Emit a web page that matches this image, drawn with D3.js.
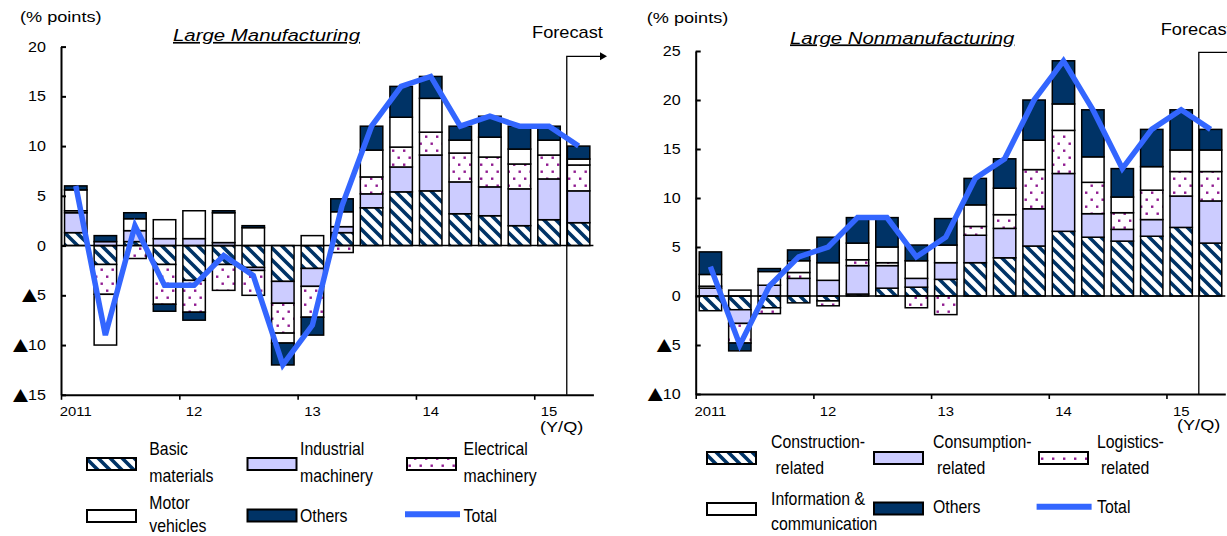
<!DOCTYPE html>
<html>
<head>
<meta charset="utf-8">
<script src="https://cdn.jsdelivr.net/npm/d3@7"></script>
<style>
  body { margin: 0; background: #fff; }
  svg { display: block; font-family: "Liberation Sans", Arial, sans-serif; }
  .tri { font-family: "DejaVu Sans", sans-serif; }
</style>
</head>
<body>
<svg id="chart" width="1227" height="536"></svg>
<script>
// ---- Quarters and axis labels ----
const quarters = ["2011Q1","2011Q2","2011Q3","2011Q4","2012Q1","2012Q2","2012Q3","2012Q4",
                  "2013Q1","2013Q2","2013Q3","2013Q4","2014Q1","2014Q2","2014Q3","2014Q4",
                  "2015Q1","2015Q2"];
const yearLabelQuarters = ["2011Q1","2012Q1","2013Q1","2014Q1","2015Q1"];
const yearLabels = ["2011","12","13","14","15"];
const mfgTicks = [-15,-10,-5,0,5,10,15,20];
const nonmfgTicks = [-10,-5,0,5,10,15,20,25];

// ---- Large manufacturing: contributions (% points) ----
const mfgKeys = ["Basic materials","Industrial machinery","Electrical machinery","Motor vehicles","Others"];
const basicMaterials      = [1.3,-1.9, 0.4,-1.9,-3.5,-1.9,-2.2,-3.6,-2.3, 1.3, 3.8, 5.4, 5.5, 3.2, 3.0, 2.0, 2.6, 2.3];
const industrialMachinery = [2.0, 0.4, 1.1, 0.7, 0.7, 0.3,-0.3,-2.2,-1.8, 0.6, 1.4, 2.5, 3.6, 3.2, 2.9, 3.7, 4.1, 3.2];
const electricalMachinery = [0.2,-3.0,-1.3,-4.0,-3.2,-2.6,-2.5,-3.0,-3.1,-0.7, 1.7, 2.0, 2.3, 2.9, 3.0, 2.5, 2.4, 2.6];
const motorVehicles       = [2.1,-5.1, 1.2, 1.9, 2.8, 3.0, 1.8,-1.0, 1.0, 1.5, 2.7, 3.0, 3.4, 1.3, 2.0, 1.5, 1.5, 0.6];
const othersMfg           = [0.4, 0.6, 0.6,-0.7,-0.8, 0.2, 0.2,-2.2,-1.8, 1.3, 2.4, 3.1, 2.2, 1.4, 2.1, 2.3, 1.4, 1.3];
const totalMfg            = [6,-9, 2,-4,-4,-1,-3,-12,-8, 4,12,16,17,12,13,12,12,10];

// ---- Large nonmanufacturing: contributions (% points) ----
const nonmfgKeys = ["Construction-related","Consumption-related","Logistics-related","Information & communication","Others"];
const construction  = [-1.5,-1.4,-1.2,-0.7,-0.5, 0.2, 0.8, 0.9, 1.7, 3.4, 3.9, 5.1, 6.6, 6.0, 5.6, 6.1, 7.0, 5.4];
const consumption   = [ 0.8,-1.4, 1.1, 1.8, 1.6, 2.9, 2.3, 0.9, 1.7, 2.8, 3.0, 3.8, 5.9, 2.4, 1.2, 1.7, 3.2, 4.3];
const logistics     = [ 0.2,-2.0,-0.6, 0.6,-0.5, 0.6, 0.3,-1.2,-1.9, 0.9, 1.4, 4.0, 4.4, 3.2, 1.7, 3.0, 2.5, 3.0];
const infoComm      = [ 1.2, 0.6, 1.4, 1.2, 1.8, 1.7, 1.6, 1.8, 1.8, 2.2, 2.7, 3.0, 2.7, 2.6, 1.6, 2.4, 2.2, 2.2];
const othersNonmfg  = [ 2.3,-0.8, 0.3, 1.1, 2.6, 2.6, 3.0, 1.6, 2.7, 2.7, 3.0, 4.1, 4.4, 4.8, 2.9, 3.8, 4.1, 2.1];
const totalNonmfg   = [3,-5, 1, 4, 5, 8, 8, 4, 6,12,14,20,24,19,13,17,19,17];

const NAVY = "#003366", LAVENDER = "#ccccff", BLUE = "#3366ff", DOT = "#901a90";
const fills = ["url(#hatch)", LAVENDER, "url(#dots)", "#ffffff", NAVY];

const svg = d3.select("#chart");

// ---- Fill patterns ----
const defs = svg.append("defs");
const hatch = defs.append("pattern").attr("id", "hatch")
  .attr("patternUnits", "userSpaceOnUse").attr("width", 12).attr("height", 12);
hatch.append("rect").attr("width", 12).attr("height", 12).attr("fill", "#fff");
hatch.append("path").attr("d", "M-3,-3L15,15M-3,9L3,15M9,-3L15,3")
  .attr("stroke", NAVY).attr("stroke-width", 3.6);
const dots = defs.append("pattern").attr("id", "dots")
  .attr("patternUnits", "userSpaceOnUse").attr("width", 11).attr("height", 14);
dots.append("rect").attr("width", 11).attr("height", 14).attr("fill", "#fff");
dots.append("rect").attr("x", 1.5).attr("y", 2.5).attr("width", 2.4).attr("height", 2.4).attr("fill", DOT);
dots.append("rect").attr("x", 7).attr("y", 9.5).attr("width", 2.4).attr("height", 2.4).attr("fill", DOT);

// Text with an optional horizontal stretch
function stretchText(parent, x, y, str, size, sx, extra) {
  const t = parent.append("text")
    .attr("transform", `translate(${x},${y}) scale(${sx},1)`)
    .attr("font-size", size).attr("fill", "#000").text(str);
  if (extra) extra(t);
  return t;
}

function drawPanel(p) {
  const g = svg.append("g");
  const x = d3.scaleBand().domain(quarters).range(p.xRange).paddingInner(0.24).paddingOuter(0.12);
  const xq = d3.scaleLinear().domain([0, quarters.length]).range(p.xRange);
  const y = d3.scaleLinear().domain(p.yDomain).range(p.yRange);

  // Stacked bars (positive above zero, negative below, same series order)
  const rows = quarters.map((q, i) => {
    const r = { q };
    p.keys.forEach((k, j) => { r[k] = p.series[j][i]; });
    return r;
  });
  const layers = d3.stack().keys(p.keys).offset(d3.stackOffsetDiverging)(rows);
  layers.forEach((layer, j) => {
    g.append("g").selectAll("rect")
      .data(layer.filter(d => d[1] !== d[0]))
      .join("rect")
      .attr("x", d => x(d.data.q))
      .attr("width", x.bandwidth())
      .attr("y", d => y(Math.max(d[0], d[1])))
      .attr("height", d => Math.abs(y(d[0]) - y(d[1])))
      .attr("fill", fills[j])
      .attr("stroke", "#000")
      .attr("stroke-width", 1.5);
  });

  // Zero line
  g.append("line")
    .attr("x1", p.xRange[0]).attr("x2", p.xRange[1])
    .attr("y1", y(0)).attr("y2", y(0))
    .attr("stroke", "#000").attr("stroke-width", 1.6);

  // Y axis: ticks inside, labels on the left, negatives marked with a triangle
  const ya = g.append("g").attr("transform", `translate(${p.xRange[0]},0)`)
    .call(d3.axisLeft(y).tickValues(p.ticks).tickSizeInner(-5).tickSizeOuter(0).tickPadding(15)
      .tickFormat(v => v < 0 ? "\u25B2" + Math.abs(v) : String(v)));
  ya.attr("font-family", null).attr("font-size", null);
  ya.select(".domain").attr("stroke-width", 2);
  ya.selectAll(".tick line").attr("stroke-width", 2);
  ya.selectAll(".tick text").attr("font-size", 14).attr("fill", "#000")
    .attr("x", -15 / 1.15).attr("transform", "scale(1.15,1)")
    .each(function (v) {
      if (v < 0) {
        const t = d3.select(this).text(null);
        t.append("tspan").attr("class", "tri").style("font-size", "17px").text("\u25B2");
        t.append("tspan").text(Math.abs(v));
      }
    });

  // X axis: year boundary ticks
  const xa = g.append("g").attr("transform", `translate(0,${p.yRange[0]})`)
    .call(d3.axisBottom(xq).tickValues([0, 4, 8, 12, 16]).tickSizeInner(5).tickSizeOuter(0).tickFormat(""));
  xa.select(".domain").attr("stroke-width", 2);
  xa.selectAll(".tick line").attr("stroke-width", 1.6);

  // Year labels under the first quarter of each year
  const xl = g.append("g").attr("transform", `translate(0,${p.yRange[0]})`)
    .call(d3.axisBottom(x).tickValues(yearLabelQuarters).tickSize(0).tickPadding(12)
      .tickFormat(q => yearLabels[yearLabelQuarters.indexOf(q)]));
  xl.attr("font-family", null).attr("font-size", null);
  xl.select(".domain").remove();
  xl.selectAll(".tick text").attr("font-size", 13.5).attr("fill", "#000").attr("transform", "scale(1.1,1)");

  // Forecast bracket
  const fx = x(quarters[quarters.length - 1]) - 0.6;
  g.append("path")
    .attr("d", `M${fx},${p.yRange[0]}V${p.bracketTop}H${p.bracketEnd}`)
    .attr("fill", "none").attr("stroke", "#000").attr("stroke-width", 1.3);
  if (p.arrow) {
    g.append("path")
      .attr("d", `M${p.bracketEnd - 1},${p.bracketTop - 4}L${p.bracketEnd + 6},${p.bracketTop}L${p.bracketEnd - 1},${p.bracketTop + 4}Z`)
      .attr("fill", "#000");
  }

  // Total line
  const line = d3.line()
    .x((d, i) => x(quarters[i]) + x.bandwidth() / 2)
    .y(d => y(d));
  g.append("path").datum(p.total)
    .attr("d", line)
    .attr("fill", "none").attr("stroke", BLUE).attr("stroke-width", 5.5)
    .attr("stroke-linejoin", "miter");

  // Texts
  stretchText(g, p.unitPos[0], p.unitPos[1], "(% points)", 15.5, 1.17);
  stretchText(g, p.titlePos[0], p.titlePos[1], p.title, 17, 1.2, t =>
    t.attr("font-style", "italic").attr("text-decoration", "underline"));
  stretchText(g, p.forecastPos[0], p.forecastPos[1], "Forecast", 16, 1.14);
  stretchText(g, p.yqPos[0], p.yqPos[1], "(Y/Q)", 15.5, 1.17);

  // Legend
  const lg = g.append("g");
  p.legend.forEach(item => {
    if (item.kind === "line") {
      lg.append("line").attr("x1", item.x).attr("x2", item.x + 55)
        .attr("y1", item.y).attr("y2", item.y)
        .attr("stroke", BLUE).attr("stroke-width", 6);
    } else {
      lg.append("rect").attr("x", item.x).attr("y", item.y)
        .attr("width", 49).attr("height", 12)
        .attr("fill", fills[item.series]).attr("stroke", "#000").attr("stroke-width", 2);
    }
    item.text.forEach(tx => stretchText(lg, tx[0], tx[1], tx[2], 18, 0.88));
  });
}

drawPanel({
  keys: mfgKeys,
  series: [basicMaterials, industrialMachinery, electricalMachinery, motorVehicles, othersMfg],
  total: totalMfg,
  ticks: mfgTicks,
  xRange: [61, 593.4],
  yDomain: [-15, 20],
  yRange: [394.8, 46.6],
  bracketTop: 56.3,
  bracketEnd: 601,
  arrow: true,
  title: "Large Manufacturing",
  titlePos: [173, 41],
  unitPos: [20, 21.7],
  forecastPos: [532, 38.3],
  yqPos: [540, 432],
  legend: [
    { series: 0, x: 87, y: 458, text: [[149.3, 455, "Basic"], [149.3, 481.7, "materials"]] },
    { series: 1, x: 247.5, y: 458, text: [[300, 455, "Industrial"], [300, 481.7, "machinery"]] },
    { series: 2, x: 407, y: 458, text: [[463.6, 455, "Electrical"], [463.6, 481.7, "machinery"]] },
    { series: 3, x: 87, y: 510, text: [[149.3, 509, "Motor"], [149.3, 532, "vehicles"]] },
    { series: 4, x: 247.5, y: 509.5, text: [[300, 521.7, "Others"]] },
    { kind: "line", x: 405, y: 514.3, text: [[463.6, 521.7, "Total"]] }
  ]
});

drawPanel({
  keys: nonmfgKeys,
  series: [construction, consumption, logistics, infoComm, othersNonmfg],
  total: totalNonmfg,
  ticks: nonmfgTicks,
  xRange: [695.7, 1225.3],
  yDomain: [-10, 25],
  yRange: [394, 51],
  bracketTop: 52.3,
  bracketEnd: 1240,
  arrow: false,
  title: "Large Nonmanufacturing",
  titlePos: [790, 43.5],
  unitPos: [646.7, 23.4],
  forecastPos: [1160.7, 35],
  yqPos: [1177, 430],
  legend: [
    { series: 0, x: 707, y: 452, text: [[771, 448.3, "Construction-"], [775.6, 474.3, "related"]] },
    { series: 1, x: 874, y: 452, text: [[933, 448.3, "Consumption-"], [937, 474.3, "related"]] },
    { series: 2, x: 1039, y: 452, text: [[1097, 448.3, "Logistics-"], [1101, 474.3, "related"]] },
    { series: 3, x: 707, y: 503, text: [[771, 505, "Information &"], [771, 530, "communication"]] },
    { series: 4, x: 874, y: 502.5, text: [[933, 513, "Others"]] },
    { kind: "line", x: 1036.6, y: 506.7, text: [[1097, 512.7, "Total"]] }
  ]
});
</script>
</body>
</html>
